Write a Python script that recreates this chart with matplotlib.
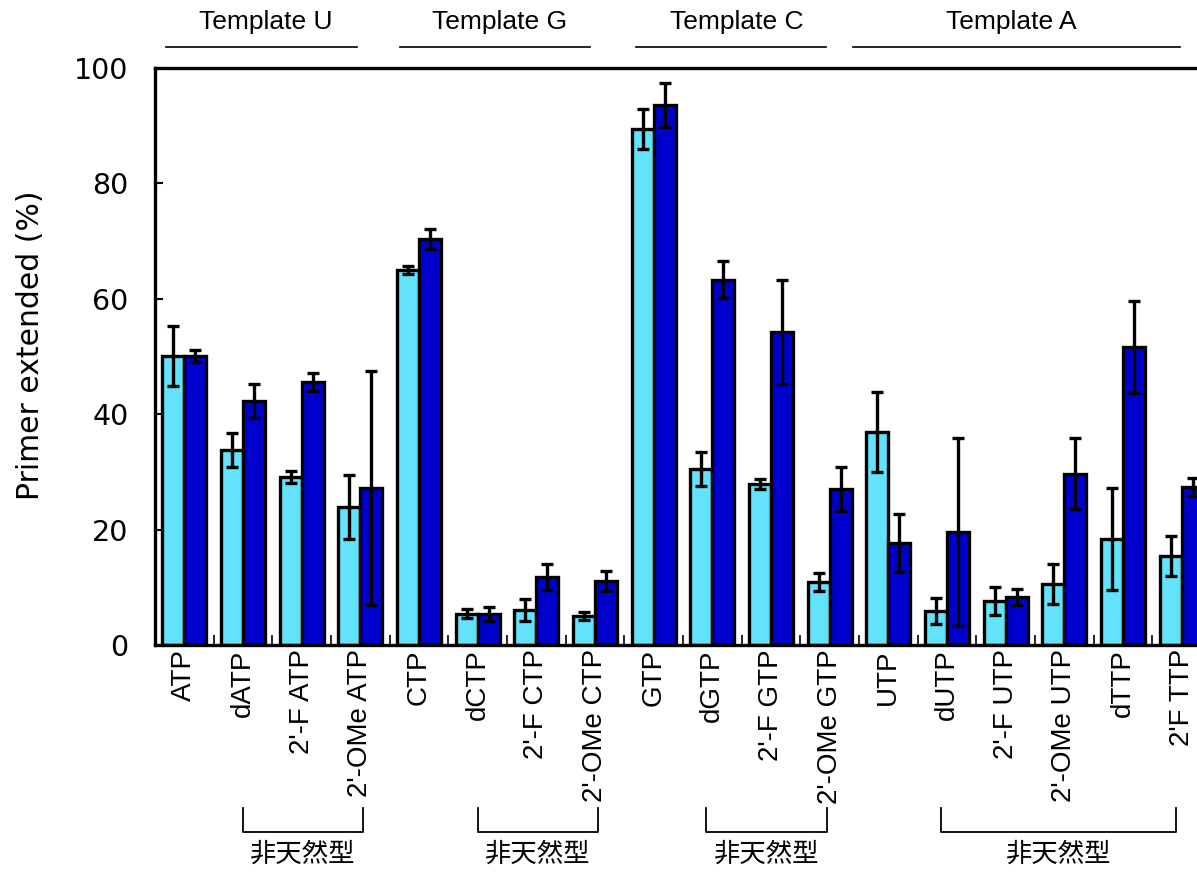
import numpy as np
import matplotlib
matplotlib.use('Agg')
import matplotlib.pyplot as plt
from matplotlib.ticker import FixedLocator

LABELS = ['ATP', 'dATP', "2'-F ATP", "2'-OMe ATP",
          'CTP', 'dCTP', "2'-F CTP", "2'-OMe CTP",
          'GTP', 'dGTP', "2'-F GTP", "2'-OMe GTP",
          'UTP', 'dUTP', "2'-F UTP", "2'-OMe UTP", 'dTTP', "2'F TTP"]
LIGHT = [50.1, 33.8, 29.1, 23.9, 65.0, 5.4, 6.1, 5.0, 89.4, 30.5, 27.9, 10.9,
         36.9, 5.9, 7.6, 10.6, 18.4, 15.4]
LIGHT_ERR = [5.2, 2.9, 1.0, 5.6, 0.7, 0.8, 1.9, 0.7, 3.5, 2.9, 0.8, 1.6,
             7.0, 2.2, 2.4, 3.5, 8.8, 3.5]
DARK = [50.1, 42.3, 45.6, 27.2, 70.4, 5.4, 11.8, 11.1, 93.6, 63.3, 54.2, 27.0,
        17.7, 19.6, 8.3, 29.7, 51.6, 27.4]
DARK_ERR = [1.0, 2.9, 1.6, 20.3, 1.7, 1.2, 2.2, 1.8, 3.8, 3.2, 9.0, 3.8,
            5.0, 16.3, 1.4, 6.1, 8.0, 1.6]
TEMPLATES = ['Template U', 'Template G', 'Template C', 'Template A']
UNNATURAL = '非天然型'

LIGHT_COLOR = '#62E3FB'
DARK_COLOR = '#0000CC'

fig = plt.figure(figsize=(11.97, 8.73), dpi=100)
ax = fig.add_axes([0.1295, 0.2612, 0.8822, 0.6609])

x = np.arange(len(LABELS))
w = 0.375
err_kw = dict(ecolor='black', elinewidth=2.4, capsize=4.5, capthick=2.4)
ax.bar(x - w / 2, LIGHT, w, yerr=LIGHT_ERR, color=LIGHT_COLOR,
       edgecolor='black', linewidth=2.4, error_kw=err_kw, zorder=2)
ax.bar(x + w / 2, DARK, w, yerr=DARK_ERR, color=DARK_COLOR,
       edgecolor='black', linewidth=2.4, error_kw=err_kw, zorder=2)

ax.set_xlim(-0.5, len(LABELS) - 0.5)
ax.set_ylim(0, 100)
ax.set_yticks([0, 20, 40, 60, 80, 100])
ax.tick_params(axis='y', direction='in', length=6, width=1.5, pad=19,
               labelsize=20.5)
for t in ax.get_yticklabels():
    t.set_fontfamily('DejaVu Sans')

ax.set_xticks(x)
ax.set_xticklabels(LABELS, rotation=90, fontsize=20,
                   fontfamily='Liberation Sans', va='top')
ax.tick_params(axis='x', which='major', length=0, pad=3)
ax.xaxis.set_minor_locator(FixedLocator(x[:-1] + 0.5))
ax.tick_params(axis='x', which='minor', direction='in', length=7, width=1.2)

for s in ['left', 'bottom', 'top']:
    ax.spines[s].set_linewidth(2.4)
ax.spines['right'].set_visible(False)

ax.set_ylabel('Primer extended (%)', fontsize=21.5, fontfamily='DejaVu Sans')
ax.yaxis.set_label_coords(-0.104, 0.52)

# template headers
trans = ax.get_xaxis_transform()
head_lines = [(-0.32, 2.95), (3.68, 6.92), (7.7, 10.94), (11.4, 16.97)]
head_text = [1.38, 5.38, 9.42, 14.1]
for name, (a, b), xc in zip(TEMPLATES, head_lines, head_text):
    ax.plot([a, b], [1.036, 1.036], color='black', lw=1.2,
            transform=trans, clip_on=False)
    ax.text(xc, 1.08, name, transform=trans, ha='center', va='center',
            fontsize=19, fontfamily='Liberation Sans')

# unnatural brackets
brackets = [(1.0, 3.05), (5.0, 7.05), (8.9, 10.95), (12.9, 16.9)]
for a, b in brackets:
    ax.plot([a, a, b, b], [-0.2825, -0.324, -0.324, -0.2825], color='black',
            lw=1.3, transform=trans, clip_on=False)
    ax.text((a + b) / 2, -0.363, UNNATURAL, transform=trans, ha='center',
            va='center', fontsize=19,
            fontfamily=['Noto Sans CJK JP', 'DejaVu Sans'])

fig.savefig('out.png', dpi=100)
